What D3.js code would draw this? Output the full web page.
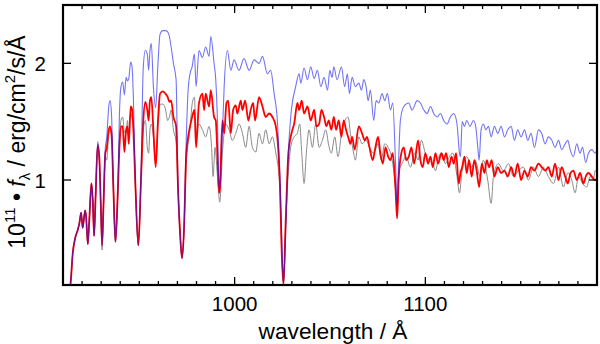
<!DOCTYPE html>
<html>
<head>
<meta charset="utf-8">
<script src="https://cdn.jsdelivr.net/npm/d3@7"></script>
<style>
body{margin:0;background:#fff}
svg{display:block}
text{font-family:"Liberation Sans",Arial,sans-serif;fill:#000}
</style>
</head>
<body>
<svg id="chart" width="600" height="344"></svg>
<script>
// shortward of ~928 A the three models coincide
var commonStart=[[913.5,0.06],[914.0,0.12],[915.1,0.37],[916.5,0.51],[917.7,0.57],[918.6,0.63],[919.5,0.72],[920.3,0.59],[921.6,0.74],[922.1,0.69],[923.0,0.45],[923.8,0.66],[924.9,0.97],[925.6,0.83],[926.3,0.52],[927.1,0.86]]

var grayTail=[[928.2,1.28],[929.1,1.14],[929.8,0.78],[930.5,0.40],[931.2,0.75],[932.2,1.20],[932.9,1.17],[934.0,1.40],[934.7,1.43],[935.5,1.37],[936.4,0.94],[937.5,0.47],[938.7,0.88],[939.6,1.34],[940.4,1.51],[941.3,1.54],[942.2,1.41],[943.1,1.40],[943.8,1.51],[944.5,1.38],[945.5,1.57],[946.2,1.54],[946.9,1.46],[948.0,0.94],[949.5,0.44],[950.9,1.00],[952.1,1.43],[953.2,1.51],[954.2,1.28],[954.9,1.23],[955.6,1.43],[956.3,1.48],[957.4,1.37],[958.6,1.14],[959.8,1.46],[960.9,1.65],[962.3,1.65],[963.7,1.61],[964.9,1.51],[965.8,1.54],[966.7,1.60],[967.9,1.43],[969.3,1.33],[970.3,0.94],[971.4,0.54],[972.4,0.33],[973.5,0.60],[974.5,1.11],[975.6,1.31],[976.6,1.43],[977.7,1.65],[978.9,1.71],[979.8,1.40],
[981.3,1.48],[983.1,1.43],[984.8,1.37],[986.6,1.46],[987.8,1.31],[988.7,1.03],[989.7,1.28],[991.0,1.03],[992.2,0.81],[993.6,1.23],[995.3,1.48],[997.1,1.43],[998.8,1.34],[1000.6,1.40],[1002.3,1.48],[1004.1,1.40],[1005.8,1.28],[1007.6,1.46],[1009.3,1.28],[1011.1,1.24],[1012.8,1.40],[1014.6,1.31],[1016.3,1.43],[1018.1,1.31],[1019.8,1.37],[1021.6,1.23],[1023.0,1.08],[1023.8,0.90],[1024.7,0.37],[1025.6,0.11],[1026.8,0.62],[1028.2,1.08],[1029.4,1.28],[1031.2,1.37],[1032.9,1.40],[1034.1,1.48],[1035.2,1.23],[1036.4,0.97],[1037.6,1.23],[1039.0,1.43],[1040.8,1.28],[1042.5,1.48],[1044.3,1.28],[1046.0,1.34],[1047.8,1.43],[1049.3,1.30],
[1050.7,1.23],[1052.5,1.37],[1054.2,1.20],[1056.3,1.43],[1059.5,1.54],[1060.7,1.40],[1062.4,1.23],[1063.3,1.17],[1065.1,1.37],[1066.8,1.31],[1068.9,1.34],[1071.2,1.26],[1072.9,1.23],[1075.2,1.31],[1076.9,1.17],[1078.7,1.31],[1080.5,1.28],[1082.9,1.14],[1084.3,0.94],[1085.2,0.77],[1086.0,1.08],[1087.8,1.14],[1089.9,1.20],[1092.2,1.11],[1094.4,1.23],[1096.2,1.17],[1097.9,1.34],[1100.0,1.23],[1101.8,1.17],[1103.9,1.14],[1105.3,1.08],[1107.0,1.20],[1108.8,1.23],[1110.5,1.14],[1112.6,1.20],[1114.4,1.23],[1116.6,1.03],[1117.9,0.89],[1119.1,1.06],
[1121.7,1.20],[1124.3,1.11],[1126.1,1.17],[1128.7,1.03],[1130.4,1.17],[1132.7,1.00],[1134.5,0.80],[1135.7,1.03],[1138.3,1.14],[1140.9,1.08],[1143.6,1.14],[1146.2,1.03],[1148.8,1.08],[1151.4,1.11],[1154.0,1.00],[1156.7,1.11],[1159.3,1.03],[1161.9,1.11],[1164.5,1.03],[1167.2,0.97],[1169.8,1.11],[1172.4,0.94],[1174.7,1.06],[1176.8,1.00],[1178.5,0.89],[1180.3,1.03],[1182.4,0.97],[1184.6,0.94],[1186.4,1.03],[1188.1,1.00],[1189.0,1.08],[1190.5,1.05]]

var redTail=[[928.2,1.30],[929.1,1.17],[929.8,0.80],[930.5,0.44],[931.2,0.77],[932.2,1.23],[932.9,1.27],[934.0,1.43],[934.7,1.46],[935.5,1.38],[936.4,0.94],[937.5,0.47],[938.7,0.88],[939.6,1.28],[940.4,1.46],[941.3,1.46],[942.2,1.24],[943.1,1.43],[943.8,1.46],[944.5,1.31],[945.5,1.63],[946.2,1.61],[946.9,1.43],[948.0,0.94],[949.5,0.44],[950.9,1.00],[952.1,1.51],[953.2,1.67],[954.2,1.60],[954.9,1.51],[955.6,1.68],[956.3,1.71],[957.4,1.43],[958.6,1.11],[959.8,1.51],[960.9,1.74],[962.3,1.76],[963.7,1.74],[964.9,1.71],[965.8,1.67],[966.7,1.68],[967.9,1.54],[969.3,1.46],[970.3,0.94],[971.4,0.54],[972.4,0.33],[973.5,0.60],[974.5,1.17],[975.6,1.37],[976.6,1.46],[977.7,1.54],[978.9,1.60],[979.8,1.28],
[981.3,1.66],[983.1,1.74],[984.0,1.60],[984.8,1.74],[986.6,1.63],[987.5,1.77],[989.2,1.54],[990.1,1.51],[991.0,1.20],[991.8,0.89],[992.2,0.92],[993.6,1.51],[994.5,1.40],[995.7,1.66],[996.6,1.68],[998.0,1.40],[999.2,1.60],[1000.6,1.64],[1001.4,1.57],[1003.2,1.68],[1004.1,1.60],[1005.5,1.68],[1007.2,1.51],[1008.4,1.60],[1009.7,1.66],[1010.7,1.51],[1012.8,1.71],[1014.6,1.63],[1016.3,1.54],[1018.1,1.57],[1019.8,1.54],[1021.6,1.46],[1023.0,1.23],[1023.8,0.94],[1024.7,0.37],[1025.6,0.11],[1026.8,0.66],[1028.2,1.23],[1030.3,1.43],[1031.2,1.48],[1032.9,1.66],[1033.8,1.60],[1035.2,1.68],[1036.4,1.57],[1038.2,1.63],[1039.9,1.51],[1041.7,1.60],[1042.9,1.46],[1044.3,1.48],[1045.5,1.60],[1046.9,1.54],[1048.1,1.46],
[1049.3,1.51],[1050.7,1.43],[1052.0,1.54],[1053.2,1.43],[1054.6,1.51],[1056.0,1.37],[1057.2,1.51],[1058.4,1.43],[1059.5,1.37],[1060.7,1.31],[1061.6,1.37],[1063.0,1.26],[1065.1,1.46],[1066.8,1.40],[1068.2,1.34],[1069.4,1.37],[1070.7,1.28],[1072.4,1.17],[1073.8,1.28],[1075.2,1.37],[1076.4,1.23],[1077.7,1.14],[1079.1,1.28],[1080.5,1.20],[1081.7,1.17],[1082.9,1.23],[1084.3,0.94],[1085.2,0.67],[1086.0,1.00],[1087.4,1.23],[1088.7,1.28],[1089.9,1.17],[1091.3,1.20],[1092.7,1.28],[1094.1,1.14],[1096.2,1.34],[1097.4,1.17],[1098.6,1.11],[1100.0,1.23],[1101.4,1.14],[1102.7,1.20],[1103.9,1.11],[1105.3,1.23],[1106.7,1.14],[1108.4,1.23],[1109.6,1.17],[1110.9,1.23],[1112.3,1.11],[1113.7,1.20],[1114.9,1.14],[1116.1,1.23],[1117.5,0.97],[1118.4,1.06],
[1119.3,1.11],[1120.5,1.20],[1121.7,1.06],[1122.9,1.17],[1124.3,1.03],[1125.7,1.17],[1126.9,1.08],[1128.2,0.94],[1129.6,1.14],[1131.0,1.06],[1132.2,1.17],[1133.4,1.11],[1134.8,1.17],[1136.2,1.03],[1138.0,1.11],[1139.7,1.06],[1141.5,1.08],[1143.2,1.03],[1145.0,1.11],[1146.7,1.03],[1148.4,1.14],[1150.2,1.00],[1152.0,1.08],[1153.7,1.03],[1155.4,1.11],[1157.2,1.08],[1159.3,1.14],[1161.0,1.11],[1162.8,1.08],[1164.5,1.11],[1166.3,1.03],[1168.0,1.14],[1169.8,1.00],[1171.5,1.11],[1173.3,1.03],[1174.7,0.97],[1176.1,1.06],[1177.6,1.08],[1179.4,1.00],[1181.1,1.06],[1182.9,0.97],[1184.1,1.03],[1185.5,1.06],[1187.3,1.03],[1189.0,1.00],[1190.5,1.02]]

var blueTail=[[928.2,1.33],[929.1,1.18],[929.8,0.80],[930.5,0.44],[931.2,0.77],[932.2,1.28],[932.9,1.36],[934.0,1.63],[934.7,1.68],[935.5,1.54],[936.4,0.94],[937.5,0.47],[938.7,0.88],[939.6,1.57],[940.4,1.80],[941.3,1.84],[942.2,1.73],[943.1,1.88],[943.8,1.85],[944.5,1.87],[945.5,2.01],[946.2,1.97],[946.9,1.71],[948.0,0.94],[949.5,0.44],[950.9,1.06],[952.1,1.97],[953.2,2.11],[954.2,2.08],[954.9,1.94],[955.6,2.11],[956.3,2.17],[957.4,1.80],[958.6,1.62],[959.8,2.00],[960.9,2.25],[962.3,2.28],[963.7,2.28],[964.9,2.27],[965.8,2.23],[966.7,2.14],[967.9,2.00],[969.3,1.86],[970.3,0.94],[971.4,0.54],[972.4,0.33],[973.5,0.60],[974.5,1.28],[975.6,1.77],[976.6,1.91],[977.7,1.97],[978.9,2.08],[979.8,1.80],
[981.3,2.11],[983.1,2.05],[984.8,2.14],[986.6,2.06],[987.5,2.23],[989.2,2.00],[990.1,1.86],[991.0,1.50],[991.8,0.95],[992.2,0.92],[993.6,1.40],[994.5,1.80],[996.2,2.11],[998.0,1.94],[999.7,2.03],[1002.3,1.94],[1004.9,2.04],[1007.6,1.94],[1010.2,2.03],[1012.8,2.00],[1014.6,2.06],[1017.2,1.91],[1018.9,1.94],[1020.7,1.74],[1022.4,1.51],[1023.8,1.00],[1024.7,0.50],[1025.6,0.11],[1026.8,0.60],[1028.2,1.25],[1029.4,1.54],[1032.0,1.80],[1033.8,1.91],[1034.7,1.83],[1036.4,1.96],[1038.2,1.86],[1039.9,1.97],[1041.7,1.87],[1043.4,1.94],[1045.2,1.80],[1046.9,1.88],[1048.7,1.77],
[1049.9,1.94],[1051.1,1.88],[1052.0,1.97],[1053.7,1.86],[1056.0,1.97],[1057.7,1.80],[1059.1,1.91],[1060.2,1.74],[1061.6,1.88],[1063.3,1.80],[1065.1,1.83],[1066.5,1.77],[1067.7,1.86],[1068.9,1.80],[1070.0,1.68],[1071.2,1.77],[1072.9,1.51],[1074.2,1.68],[1075.6,1.66],[1077.3,1.74],[1078.7,1.68],[1080.1,1.74],[1081.7,1.60],[1082.9,1.66],[1084.3,1.17],[1085.2,0.77],[1086.0,1.17],[1086.9,1.51],[1088.7,1.63],[1091.3,1.66],[1093.0,1.60],[1095.7,1.68],[1097.4,1.66],[1099.2,1.60],[1100.9,1.57],[1102.7,1.63],[1104.4,1.57],[1106.2,1.54],[1107.9,1.57],[1109.6,1.51],[1111.4,1.48],[1113.1,1.54],[1114.9,1.57],[1116.6,1.48],[1117.9,1.23],[1118.4,1.20],[1119.3,1.50],
[1120.5,1.46],[1121.7,1.51],[1123.4,1.46],[1125.2,1.51],[1126.4,1.46],[1127.5,1.28],[1128.2,1.17],[1129.2,1.43],[1130.4,1.48],[1131.7,1.43],[1133.1,1.46],[1134.5,1.37],[1136.2,1.46],[1138.0,1.40],[1139.7,1.46],[1141.5,1.37],[1143.2,1.43],[1145.0,1.46],[1146.7,1.34],[1148.4,1.43],[1150.2,1.37],[1152.0,1.43],[1153.7,1.34],[1155.4,1.40],[1157.2,1.28],[1159.3,1.43],[1161.0,1.40],[1162.8,1.31],[1164.5,1.37],[1166.3,1.34],[1168.0,1.28],[1169.8,1.34],[1171.5,1.26],[1173.3,1.31],[1174.7,1.34],[1175.9,1.26],[1177.6,1.20],[1179.4,1.31],[1181.1,1.23],[1182.4,1.28],[1184.1,1.15],[1185.5,1.23],[1187.3,1.26],[1189.0,1.23],[1190.5,1.30]]

var xDomain=[910,1190]
var yDomain=[0.1,2.5]
var xMajor=[1000,1100]
var yMajor=[1,2]

var svg=d3.select('#chart')
var L=63,R=597,T=5,B=285

var x=d3.scaleLinear().domain(xDomain).range([L,R])
var y=d3.scaleLinear().domain(yDomain).range([B,T])

svg.append('clipPath').attr('id','clip')
.append('rect').attr('x',L).attr('y',T).attr('width',R-L).attr('height',B-T)

var line=d3.line().x(d=>x(d[0])).y(d=>y(d[1])).curve(d3.curveMonotoneX)
var series=[
 {d:commonStart.concat(grayTail),c:'#8a8a8a',w:1,o:1},
 {d:commonStart.concat(redTail),c:'#ff0000',w:1.8,o:1},
 {d:commonStart.concat(blueTail),c:'#1515ee',w:1.1,o:0.6}
]
svg.append('g').attr('clip-path','url(#clip)')
.selectAll('path').data(series).enter().append('path')
.attr('d',s=>line(s.d))
.attr('fill','none')
.attr('stroke',s=>s.c)
.attr('stroke-width',s=>s.w)
.attr('stroke-opacity',s=>s.o)
.attr('stroke-linejoin','round')

// ticks on all four sides, pointing in
var minor=d3.range(910,1191,10).filter(v=>xMajor.indexOf(v)<0)
var tk=svg.append('g').attr('stroke','#000').attr('stroke-width',1.3)
minor.forEach(v=>{
 tk.append('line').attr('x1',x(v)).attr('x2',x(v)).attr('y1',B).attr('y2',B-4)
 tk.append('line').attr('x1',x(v)).attr('x2',x(v)).attr('y1',T).attr('y2',T+4)
})
xMajor.forEach(v=>{
 tk.append('line').attr('x1',x(v)).attr('x2',x(v)).attr('y1',B).attr('y2',B-8)
 tk.append('line').attr('x1',x(v)).attr('x2',x(v)).attr('y1',T).attr('y2',T+8)
})
yMajor.forEach(v=>{
 tk.append('line').attr('x1',L).attr('x2',L+8).attr('y1',y(v)).attr('y2',y(v))
 tk.append('line').attr('x1',R).attr('x2',R-8).attr('y1',y(v)).attr('y2',y(v))
})

svg.append('rect').attr('x',L).attr('y',T).attr('width',R-L).attr('height',B-T)
.attr('fill','none').attr('stroke','#000').attr('stroke-width',2.2)

svg.selectAll('.xl').data(xMajor).enter().append('text')
.attr('class','xl').attr('x',d=>x(d)).attr('y',311)
.attr('text-anchor','middle').attr('font-size','20.5px').text(d=>d)
svg.selectAll('.yl').data(yMajor).enter().append('text')
.attr('class','yl').attr('x',46).attr('y',d=>y(d)+7.5)
.attr('text-anchor','end').attr('font-size','20.5px').text(d=>d)

svg.append('text').attr('x',333).attr('y',339)
.attr('text-anchor','middle').attr('font-size','22.7px').text('wavelength / Å')

var yl=svg.append('text').attr('transform','translate(25,142) rotate(-90)')
.attr('text-anchor','middle').attr('font-size','23px')
yl.append('tspan').text('10')
yl.append('tspan').attr('font-size','15px').attr('dy',-10).text('11')
yl.append('tspan').attr('dy',10).text(' • ')
yl.append('tspan').attr('font-style','italic').text('f')
yl.append('tspan').attr('font-size','15px').attr('dy',5).text('λ')
yl.append('tspan').attr('dy',-5).text(' / erg/cm')
yl.append('tspan').attr('font-size','15px').attr('dy',-10).text('2')
yl.append('tspan').attr('dy',10).text('/s/Å')
</script>
</body>
</html>
